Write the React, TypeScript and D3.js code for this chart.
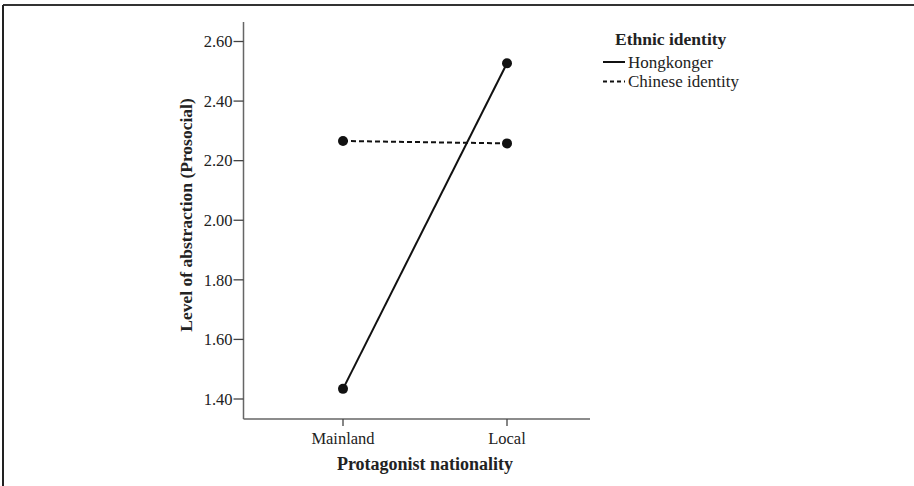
import React from "react";
import * as d3 from "d3";

const categories = ["Mainland", "Local"];
const hongkonger = [1.434, 2.527];
const chinese = [2.266, 2.258];
const yTicks = [1.4, 1.6, 1.8, 2.0, 2.2, 2.4, 2.6];
const seriesNames = ["Hongkonger", "Chinese identity"];

export default function App() {
  const W = 914, H = 486;
  const x = d3.scalePoint<string>().domain(categories).range([343, 507]);
  const y = d3.scaleLinear().domain([1.4, 2.6]).range([399, 41.5]);
  const axisLeft = 243.5, axisTop = 22, axisBottom = 419, axisRight = 590;
  const line = d3.line<number>().x((_, i) => x(categories[i])!).y((d) => y(d));
  const font = "'Liberation Serif', 'Times New Roman', serif";
  const series = [
    { name: seriesNames[0], values: hongkonger, dash: "none" },
    { name: seriesNames[1], values: chinese, dash: "5,3" },
  ];
  return (
    <svg width={W} height={H} style={{ position: "absolute", left: 0, top: 0 }} fontFamily={font}>
      <rect width={W} height={H} fill="#fff" />
      <line x1={3} y1={5} x2={W} y2={5} stroke="#333" strokeWidth={2} />
      <line x1={3} y1={5} x2={3} y2={H} stroke="#222" strokeWidth={2} />
      {/* axes */}
      <line x1={axisLeft} y1={axisTop} x2={axisLeft} y2={axisBottom} stroke="#666" strokeWidth={1.5} />
      <line x1={axisLeft} y1={axisBottom} x2={axisRight} y2={axisBottom} stroke="#666" strokeWidth={1.5} />
      {yTicks.map((t) => (
        <g key={t}>
          <line x1={axisLeft - 10} x2={axisLeft} y1={y(t)} y2={y(t)} stroke="#444" strokeWidth={1.3} />
          <text x={axisLeft - 11} y={y(t)} dy="0.35em" textAnchor="end" fontSize={16.5} fill="#222">
            {t.toFixed(2)}
          </text>
        </g>
      ))}
      {categories.map((c) => (
        <g key={c}>
          <line x1={x(c)} x2={x(c)} y1={axisBottom} y2={axisBottom + 7} stroke="#444" strokeWidth={1.3} />
          <text x={x(c)} y={axisBottom + 25} textAnchor="middle" fontSize={16.5} fill="#222">
            {c}
          </text>
        </g>
      ))}
      <text x={425} y={470} textAnchor="middle" fontSize={18} fontWeight="bold" fill="#222">
        Protagonist nationality
      </text>
      <text
        transform={`translate(192, 215) rotate(-90)`}
        textAnchor="middle"
        fontSize={17.5}
        fontWeight="bold"
        fill="#222"
      >
        Level of abstraction (Prosocial)
      </text>
      {series.map((s) => (
        <g key={s.name}>
          <path d={line(s.values)!} fill="none" stroke="#111" strokeWidth={2} strokeDasharray={s.dash} />
          {s.values.map((v, i) => (
            <circle key={i} cx={x(categories[i])} cy={y(v)} r={5} fill="#111" />
          ))}
        </g>
      ))}
      {/* legend */}
      <text x={615} y={45} fontSize={17.5} fontWeight="bold" fill="#222">Ethnic identity</text>
      {series.map((s, i) => (
        <g key={s.name} transform={`translate(0, ${62 + i * 19.5})`}>
          <line x1={603} x2={625} y1={0} y2={0} stroke="#111" strokeWidth={2} strokeDasharray={s.dash === "none" ? "none" : "4,3"} />
          <text x={628} y={0} dy="0.35em" fontSize={17} fill="#222">{s.name}</text>
        </g>
      ))}
    </svg>
  );
}
